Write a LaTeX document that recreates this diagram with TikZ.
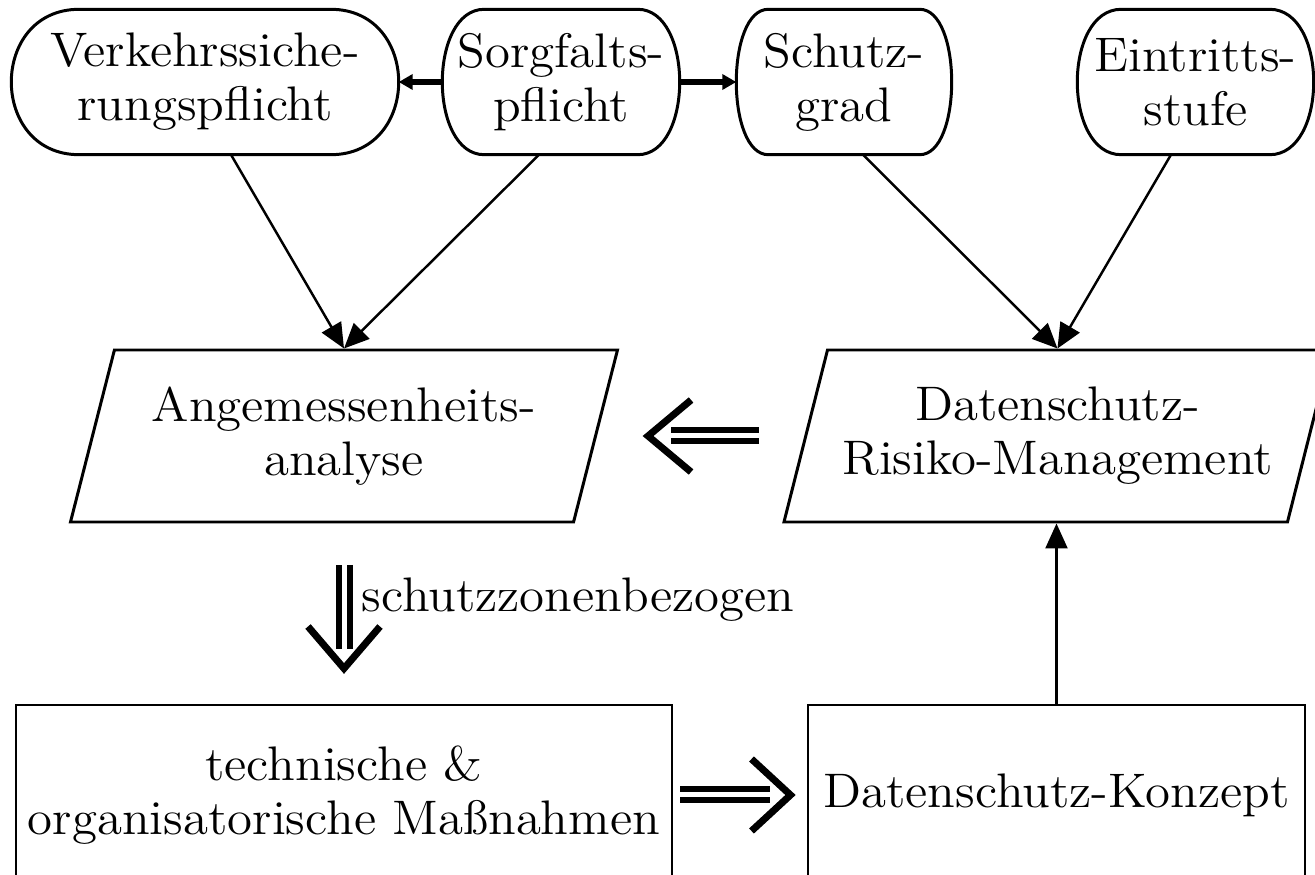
\documentclass[tikz,border=0pt]{standalone}
\usepackage{fontspec}
\setmainfont{lmroman12-regular.otf}[FakeStretch=1.05]
\usepackage{tikz}
\usetikzlibrary{shapes.geometric,arrows.meta,positioning,calc}

\begin{document}
\begin{tikzpicture}[
    txt/.style={font=\fontsize{13.8}{15.4}\selectfont, align=center, inner sep=0pt},
    pill/.style={txt, minimum height=1.44cm},
    rim/.style={line width=0.85pt},
    para/.style={txt, draw, line width=0.85pt, trapezium, trapezium left angle=66, trapezium right angle=114, trapezium stretches body=true, minimum width=5.47cm, minimum height=1.72cm},
    box/.style={txt, draw, line width=0.85pt, rectangle, minimum height=1.8cm},
    conn/.style={line width=0.7pt, -{Triangle[length=2.5mm,width=2.2mm]}},
    link/.style={line width=1.5pt, -{Triangle[length=1.4mm,width=1.5mm]}},
    dbl/.style={double, double distance=0.5mm, line width=0.6mm},
    chev/.style={line width=0.7mm, line join=miter}
]
    \useasboundingbox (0,0) rectangle (13.15,-8.75);
    \clip (0,0) rectangle (13.15,-8.75);

    % Top row
    \node[pill, minimum width=3.86cm] (verk) at (2.05,-0.82) {Verkehrssiche-\\rungspflicht};
    \node[pill, minimum width=2.36cm] (sorg) at (5.61,-0.82) {Sorgfalts-\\pflicht};
    \node[pill, minimum width=2.14cm] (schutz) at (8.44,-0.82) {Schutz-\\grad};
    \node[pill, minimum width=2.35cm] (eintr) at (11.955,-0.82) {Eintritts-\\stufe};
    \foreach \nd/\bw in {verk/0.68, sorg/0.42, schutz/0.32, eintr/0.44} {
        \pgfmathsetmacro{\cw}{\bw/3}
        \draw[rim] ([xshift=\bw cm]\nd.north west) -- ([xshift=-\bw cm]\nd.north east)
            .. controls ([xshift=\cw cm]\nd.north east) and ([xshift=\cw cm]\nd.south east) .. ([xshift=-\bw cm]\nd.south east)
            -- ([xshift=\bw cm]\nd.south west)
            .. controls ([xshift=-\cw cm]\nd.south west) and ([xshift=-\cw cm]\nd.north west) .. cycle;
    }

    % Middle row
    \node[para] (ana) at (3.44,-4.36) {Angemessenheits-\\analyse};
    \node[para] (risk) at (10.575,-4.36) {Datenschutz-\\Risiko-Management};

    % Bottom row
    \node[box, minimum width=6.56cm] (mass) at (3.44,-7.95) {technische \&\\organisatorische Maßnahmen};
    \node[box, minimum width=4.97cm] (kon) at (10.565,-7.95) {Datenschutz-Konzept};

    % Side links
    \draw[link] (sorg.west) -- (verk.east);
    \draw[link] (sorg.east) -- (schutz.west);

    % Into the parallelograms
    \draw[conn] ([xshift=2.6mm]verk.south) -- (ana.center |- ana.top side);
    \draw[conn] ([xshift=-2.2mm]sorg.south) -- (ana.center |- ana.top side);
    \draw[conn] ([xshift=1.9mm]schutz.south) -- (risk.center |- risk.top side);
    \draw[conn] ([xshift=-2.45mm]eintr.south) -- (risk.center |- risk.top side);

    % Concept back up
    \draw[conn] (kon.north) -- (kon.north |- risk.bottom side);

    % Double arrow leftwards
    \draw[dbl] ([xshift=-4.5mm]risk.left side) -- ([xshift=7.4mm]ana.right side);
    \draw[chev] ([xshift=9.4mm,yshift=3.6mm]ana.right side) -- ([xshift=5.1mm]ana.right side) -- ([xshift=9.4mm,yshift=-3.6mm]ana.right side);

    % Double arrow downwards
    \draw[dbl] ([yshift=-12.9mm]ana.center) -- ([yshift=5.5mm]mass.north);
    \draw[chev] ([xshift=-3.6mm,yshift=7.7mm]mass.north) -- ([yshift=3.5mm]mass.north) -- ([xshift=3.6mm,yshift=7.7mm]mass.north);
    \node[txt, anchor=base west] (zone) at (3.61,-6.12) {schutzzonenbezogen};

    % Double arrow rightwards
    \draw[dbl] ([xshift=0.7mm]mass.east) -- ([xshift=-3.7mm]kon.west);
    \draw[chev] ([xshift=-5.5mm,yshift=3.6mm]kon.west) -- ([xshift=-1.6mm]kon.west) -- ([xshift=-5.5mm,yshift=-3.6mm]kon.west);
\end{tikzpicture}
\end{document}
